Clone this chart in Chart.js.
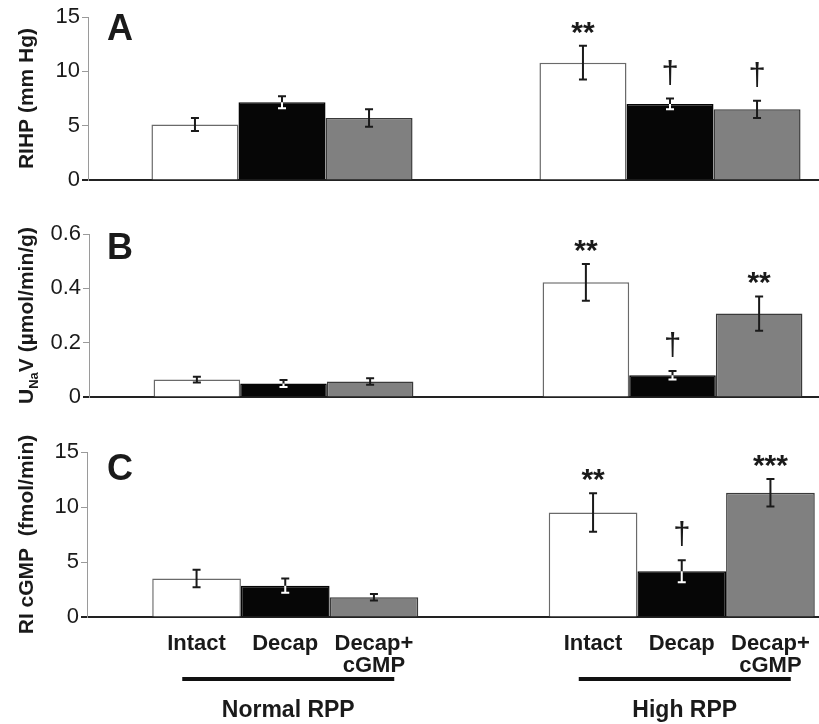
<!DOCTYPE html>
<html><head><meta charset="utf-8">
<script src="https://cdn.jsdelivr.net/npm/chart.js@4.4.1/dist/chart.umd.min.js"></script>
<style>
html,body{margin:0;padding:0;background:#fff;overflow:hidden;width:819px;height:724px;}
canvas{position:absolute;left:0;display:block;}
</style></head><body>
<canvas id="cA" width="864" height="200" style="top:0px"></canvas>
<canvas id="cB" width="867" height="220" style="top:200px"></canvas>
<canvas id="cC" width="880" height="304" style="top:420px"></canvas>
<script>
// ---------- data ----------
const groups = ["Normal RPP", "High RPP"];
const treatments = [["Intact"], ["Decap"], ["Decap+", "cGMP"]];

// Panel A: RIHP (mm Hg)
const rihpIntact = [5.1, 10.8];
const rihpDecap = [7.15, 7.0];
const rihpDecapCgmp = [5.7, 6.5];
const rihpErrIntact = [0.6, 1.55];
const rihpErrDecap = [0.55, 0.5];
const rihpErrDecapCgmp = [0.8, 0.8];
const rihpMarksIntact = ["", "**"];
const rihpMarksDecap = ["", "†"];
const rihpMarksDecapCgmp = ["", "†"];
const rihpTicks = ["0", "5", "10", "15"];

// Panel B: UNaV (µmol/min/g)
const unavIntact = [0.064, 0.422];
const unavDecap = [0.05, 0.08];
const unavDecapCgmp = [0.057, 0.307];
const unavErrIntact = [0.011, 0.068];
const unavErrDecap = [0.013, 0.016];
const unavErrDecapCgmp = [0.012, 0.063];
const unavMarksIntact = ["", "**"];
const unavMarksDecap = ["", "†"];
const unavMarksDecapCgmp = ["", "**"];
const unavTicks = ["0", "0.2", "0.4", "0.6"];

// Panel C: RI cGMP (fmol/min)
const cgmpIntact = [3.5, 9.5];
const cgmpDecap = [2.85, 4.15];
const cgmpDecapCgmp = [1.8, 11.3];
const cgmpErrIntact = [0.8, 1.75];
const cgmpErrDecap = [0.65, 1.0];
const cgmpErrDecapCgmp = [0.3, 1.25];
const cgmpMarksIntact = ["", "**"];
const cgmpMarksDecap = ["", "†"];
const cgmpMarksDecapCgmp = ["", "***"];
const cgmpTicks = ["0", "5", "10", "15"];

// ---------- style ----------
const FONT = "'Liberation Sans', Arial, Helvetica, sans-serif";
const TXT = "#1a1a1a";
const FILL = ["#ffffff", "#060606", "#808080"];
const EDGE = ["#6a6a6a", "#060606", "#3a3a3a"];
const ERR_ON_DARK = [false, true, false];

function drawErr(ctx, x, yt, yb, color) {
  ctx.strokeStyle = color;
  ctx.lineWidth = 2;
  ctx.beginPath();
  ctx.moveTo(x, yt); ctx.lineTo(x, yb);
  ctx.moveTo(x - 4, yt); ctx.lineTo(x + 4, yt);
  ctx.moveTo(x - 4, yb); ctx.lineTo(x + 4, yb);
  ctx.stroke();
}

const decor = {
  id: 'decor',
  afterDatasetsDraw(chart) {
    const c = chart.options.plugins.decor;
    const ctx = chart.ctx, ys = chart.scales.y, xs = chart.scales.x, area = chart.chartArea;
    ctx.save();
    // dark zero tick extending the baseline left of the axis
    ctx.strokeStyle = '#222';
    ctx.lineWidth = 2;
    ctx.beginPath();
    ctx.moveTo(area.left - 6, area.bottom);
    ctx.lineTo(area.left, area.bottom);
    ctx.stroke();
    // error bars and significance marks
    chart.data.datasets.forEach((ds, di) => {
      const meta = chart.getDatasetMeta(di);
      meta.data.forEach((bar, j) => {
        const v = ds.data[j], e = c.errors[di][j];
        const yt = ys.getPixelForValue(v + e), yb = ys.getPixelForValue(Math.max(0, v - e));
        drawErr(ctx, bar.x, yt, yb, '#1a1a1a');
        if (ERR_ON_DARK[di]) {
          ctx.save();
          ctx.beginPath();
          ctx.rect(bar.x - bar.width / 2, bar.y, bar.width, bar.base - bar.y);
          ctx.clip();
          drawErr(ctx, bar.x, yt, yb, '#ffffff');
          ctx.restore();
        }
        const m = c.marks[di][j];
        if (m) {
          const isStar = m.indexOf('*') >= 0;
          ctx.font = (isStar ? 'bold 30px ' : '31px ') + FONT;
          ctx.fillStyle = TXT;
          ctx.textAlign = 'center';
          ctx.textBaseline = 'alphabetic';
          const tm = ctx.measureText(m);
          const gap = isStar ? 12 : 14;
          ctx.fillText(m, bar.x, yt - gap - tm.actualBoundingBoxDescent);
        }
      });
    });
    // panel letter
    ctx.font = 'bold 36px ' + FONT;
    ctx.fillStyle = TXT;
    ctx.textAlign = 'left';
    ctx.textBaseline = 'alphabetic';
    ctx.fillText(c.letter, 107, area.top + c.letterDy);
    // y title (rotated)
    const parts = c.title;
    const widths = parts.map(p => {
      ctx.font = 'bold ' + (p.sub ? 13 : 21) + 'px ' + FONT;
      return ctx.measureText(p.t).width;
    });
    const total = widths.reduce((a, b) => a + b, 0);
    ctx.save();
    ctx.translate(33, (area.top + area.bottom) / 2);
    ctx.rotate(-Math.PI / 2);
    let px = -total / 2;
    parts.forEach((p, k) => {
      ctx.font = 'bold ' + (p.sub ? 13 : 21) + 'px ' + FONT;
      ctx.textAlign = 'left';
      ctx.fillText(p.t, px, p.sub ? 5 : 0);
      px += widths[k];
    });
    ctx.restore();
    // category labels (bottom panel only)
    if (c.xlabels) {
      ctx.fillStyle = TXT;
      ctx.textAlign = 'center';
      ctx.font = 'bold 22px ' + FONT;
      chart.data.datasets.forEach((ds, di) => {
        const meta = chart.getDatasetMeta(di);
        meta.data.forEach(bar => {
          treatments[di].forEach((line, k) => {
            ctx.fillText(line, bar.x, area.bottom + 33 + k * 22);
          });
        });
      });
      groups.forEach((g, j) => {
        const cx = xs.getPixelForValue(j) + 3;
        ctx.strokeStyle = '#111';
        ctx.lineWidth = 4;
        ctx.beginPath();
        ctx.moveTo(cx - 106, area.bottom + 62);
        ctx.lineTo(cx + 106, area.bottom + 62);
        ctx.stroke();
        ctx.font = 'bold 23px ' + FONT;
        ctx.fillText(g, cx, area.bottom + 100);
      });
    }
    ctx.restore();
  }
};

function makePanel(id, p) {
  const series = [p.intact, p.decap, p.decapCgmp];
  new Chart(document.getElementById(id), {
    type: 'bar',
    data: {
      labels: groups,
      datasets: series.map((s, i) => ({
        label: treatments[i].join(' '),
        data: s,
        backgroundColor: FILL[i],
        borderColor: EDGE[i],
        borderWidth: 1.5,
        borderSkipped: 'start',
        categoryPercentage: p.catPct,
        barPercentage: 1
      }))
    },
    options: {
      responsive: false,
      animation: false,
      events: [],
      layout: { padding: { top: p.padTop, bottom: p.padBottom, left: 0, right: 0 } },
      scales: {
        x: {
          grid: { display: false },
          ticks: { display: false },
          border: { display: true, color: '#222', width: 2 },
          afterFit: s => { s.height = 0; }
        },
        y: {
          min: 0, max: p.max,
          ticks: {
            stepSize: p.step,
            font: { family: FONT, size: 22 },
            color: TXT,
            padding: 2,
            callback: (v, i) => p.ticks[i]
          },
          grid: { drawOnChartArea: false, drawTicks: true, tickLength: 6, color: '#9a9a9a', lineWidth: 1 },
          border: { color: '#9a9a9a', width: 1 },
          afterFit: s => { s.width = p.left; }
        }
      },
      plugins: {
        legend: { display: false },
        tooltip: { enabled: false },
        decor: {
          errors: [p.errIntact, p.errDecap, p.errDecapCgmp],
          marks: [p.marksIntact, p.marksDecap, p.marksDecapCgmp],
          letter: p.letter,
          letterDy: p.letterDy,
          title: p.title,
          xlabels: p.xlabels
        }
      }
    },
    plugins: [decor]
  });
}

makePanel('cA', {
  intact: rihpIntact, decap: rihpDecap, decapCgmp: rihpDecapCgmp,
  errIntact: rihpErrIntact, errDecap: rihpErrDecap, errDecapCgmp: rihpErrDecapCgmp,
  marksIntact: rihpMarksIntact, marksDecap: rihpMarksDecap, marksDecapCgmp: rihpMarksDecapCgmp,
  ticks: rihpTicks, max: 15, step: 5,
  left: 88, padTop: 17, padBottom: 20, catPct: 0.673,
  letter: 'A', letterDy: 23,
  title: [{ t: 'RIHP (mm Hg)' }], xlabels: false
});
makePanel('cB', {
  intact: unavIntact, decap: unavDecap, decapCgmp: unavDecapCgmp,
  errIntact: unavErrIntact, errDecap: unavErrDecap, errDecapCgmp: unavErrDecapCgmp,
  marksIntact: unavMarksIntact, marksDecap: unavMarksDecap, marksDecapCgmp: unavMarksDecapCgmp,
  ticks: unavTicks, max: 0.6, step: 0.2,
  left: 89, padTop: 34, padBottom: 23, catPct: 0.668,
  letter: 'B', letterDy: 25,
  title: [{ t: 'U' }, { t: 'Na', sub: true }, { t: 'V (µmol/min/g)' }], xlabels: false
});
makePanel('cC', {
  intact: cgmpIntact, decap: cgmpDecap, decapCgmp: cgmpDecapCgmp,
  errIntact: cgmpErrIntact, errDecap: cgmpErrDecap, errDecapCgmp: cgmpErrDecapCgmp,
  marksIntact: cgmpMarksIntact, marksDecap: cgmpMarksDecap, marksDecapCgmp: cgmpMarksDecapCgmp,
  ticks: cgmpTicks, max: 15, step: 5,
  left: 87, padTop: 32, padBottom: 107, catPct: 0.671,
  letter: 'C', letterDy: 28,
  title: [{ t: 'RI cGMP  (fmol/min)' }], xlabels: true
});
</script>
</body></html>
